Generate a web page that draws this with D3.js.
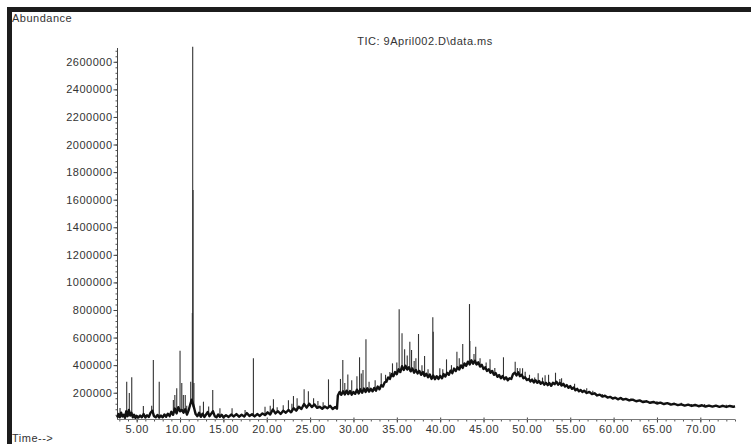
<!DOCTYPE html>
<html lang="en">
<head>
    <meta charset="UTF-8">
    <title>TIC: 9April002.D\data.ms</title>
    <style>
        body { margin: 0; background: #fff; }
        svg { display: block; }
        text {
            font-family: "Liberation Sans", Arial, sans-serif;
            font-size: 11px;
            fill: #333;
            letter-spacing: .5px;
        }
    </style>
</head>
<body>
    <div id="chart"></div>

    <script src="https://d3js.org/d3.v7.min.js"></script>
    <script>
        // abundance values are in thousands, time in minutes
        const baseline = [
            [2.75,20],[2.9,45],[3.05,22],[3.2,55],[3.35,28],[3.5,40],[3.65,18],[3.8,65],[3.95,30],[4.1,75],
            [4.25,35],[4.4,55],[4.55,22],[4.7,40],[4.85,18],[5.0,32],[5.2,20],[5.4,34],[5.6,22],[5.8,45],
            [6.0,20],[6.2,36],[6.4,24],[6.6,55],[6.8,70],[7.0,30],[7.2,22],[7.4,38],[7.6,20],[7.8,34],
            [8.0,22],[8.2,42],[8.4,26],[8.6,48],[8.8,30],[9.0,62],[9.2,40],[9.4,85],[9.6,50],[9.8,95],
            [10.0,65],[10.2,75],[10.4,55],[10.6,80],[10.8,42],[11.0,75],[11.2,120],[11.35,150],[11.6,95],[11.8,45],
            [12.0,30],[12.2,55],[12.4,25],[12.6,48],[12.8,24],[13.0,42],[13.2,60],[13.4,30],[13.6,48],[13.8,65],
            [14.0,30],[14.2,22],[14.4,42],[14.6,26],[14.8,40],[15.0,22],[15.3,36],[15.6,24],[15.9,42],[16.2,28],
            [16.5,45],[16.8,26],[17.1,40],[17.4,28],[17.7,52],[18.0,32],[18.3,44],[18.6,28],[18.9,45],[19.2,32],
            [19.5,50],[19.8,38],[20.1,58],[20.4,42],[20.7,78],[21.0,50],[21.3,66],[21.6,46],[21.9,70],[22.2,55],
            [22.5,75],[22.8,58],[23.1,88],[23.4,70],[23.7,98],[24.0,82],[24.3,118],[24.6,92],[24.9,120],[25.2,96],
            [25.5,115],[25.8,90],[26.1,98],[26.4,84],[26.7,100],[27.0,88],[27.3,105],[27.6,82],[27.9,96],[28.1,84],
            [28.2,180],[28.4,205],[28.6,185],[28.8,210],[29.0,188],[29.2,215],[29.4,190],[29.6,212],[29.8,186],[30.0,205],
            [30.2,192],[30.4,222],[30.6,195],[30.8,225],[31.0,200],[31.2,230],[31.4,205],[31.6,232],[31.8,208],[32.0,228],
            [32.2,210],[32.4,235],[32.6,215],[32.8,245],[33.0,225],[33.2,255],[33.4,245],[33.6,275],[33.8,280],[34.0,310],
            [34.2,300],[34.4,335],[34.6,320],[34.8,350],[35.0,335],[35.2,370],[35.4,350],[35.6,392],[35.8,365],[36.0,395],
            [36.2,368],[36.4,385],[36.6,355],[36.8,375],[37.0,345],[37.2,365],[37.4,340],[37.6,358],[37.8,330],[38.0,350],
            [38.2,322],[38.4,338],[38.6,312],[38.8,332],[39.0,300],[39.2,325],[39.4,298],[39.6,320],[39.8,300],[40.0,322],
            [40.2,305],[40.4,335],[40.6,318],[40.8,345],[41.0,330],[41.2,360],[41.4,342],[41.6,375],[41.8,358],[42.0,385],
            [42.2,368],[42.4,398],[42.6,380],[42.8,412],[43.0,395],[43.2,425],[43.4,405],[43.6,435],[43.8,410],[44.0,432],
            [44.2,405],[44.4,420],[44.6,390],[44.8,402],[45.0,372],[45.2,385],[45.4,358],[45.6,370],[45.8,345],[46.0,358],
            [46.2,330],[46.4,342],[46.6,315],[46.8,328],[47.0,305],[47.2,322],[47.4,298],[47.6,312],[47.8,290],[48.0,305],
            [48.2,300],[48.4,335],[48.6,345],[48.8,325],[49.0,348],[49.2,320],[49.4,330],[49.6,305],[49.8,312],[50.0,292],
            [50.2,300],[50.4,282],[50.6,295],[50.8,275],[51.0,290],[51.2,272],[51.4,285],[51.6,265],[51.8,278],[52.0,258],
            [52.2,272],[52.4,255],[52.6,270],[52.8,250],[53.0,272],[53.2,262],[53.4,280],[53.6,258],[53.8,272],[54.0,252],
            [54.2,265],[54.4,245],[54.6,255],[54.8,236],[55.0,248],[55.2,228],[55.4,238],[55.6,218],[55.8,228],[56.0,210],
            [56.2,220],[56.4,205],[56.6,215],[56.9,198],[57.2,206],[57.5,190],[57.8,196],[58.1,180],[58.4,186],[58.7,172],
            [59.0,178],[59.3,165],[59.6,170],[59.9,158],[60.2,164],[60.5,152],[60.8,162],[61.1,150],[61.4,155],[61.8,144],
            [62.2,150],[62.6,138],[63.0,144],[63.4,132],[63.8,138],[64.2,127],[64.6,133],[65.0,122],[65.4,128],[65.8,118],
            [66.2,124],[66.6,114],[67.0,120],[67.4,110],[67.8,116],[68.2,107],[68.6,114],[69.0,104],[69.4,111],[69.8,102],
            [70.2,109],[70.6,100],[71.0,107],[71.4,99],[71.8,106],[72.2,98],[72.6,105],[73.0,97],[73.4,104],[73.8,98],
            [74.0,102]
        ]

        // narrow peaks: [time, apex]
        const peaks = [
            [3.08,90],[3.85,280],[4.15,198],[4.43,312],[5.77,104],[6.73,106],[6.92,437],[7.6,280],
            [9.23,147],[9.4,183],[9.62,232],[10.0,505],[10.2,270],[10.38,183],[10.6,183],[10.77,106],
            [11.23,280],[11.42,778],[11.46,2709],[11.5,1670],[11.6,270],[12.3,106],[12.7,135],[13.3,100],
            [13.77,220],[14.6,88],[16.0,88],[17.5,75],[18.46,450],[19.8,99],[20.4,106],[20.77,152],
            [21.2,95],[21.9,110],[22.5,145],[22.9,120],[23.08,176],[23.5,160],[24.31,225],[24.8,210],
            [25.4,160],[25.9,140],[26.5,130],[27.12,297],
            [28.5,300],[28.77,437],[29.0,270],[29.35,333],[29.8,290],[30.4,320],[30.7,457],[30.9,340],
            [31.1,365],[31.44,587],[31.8,280],[32.5,290],[33.2,341],[33.7,330],[34.2,350],[34.5,413],
            [35.0,420],[35.27,805],[35.6,631],[35.9,515],[36.2,470],[36.5,570],[36.7,510],[37.0,430],
            [37.2,450],[37.5,626],[37.9,400],[38.2,466],[38.6,370],[39.15,747],[39.2,643],[39.96,377],
            [40.3,370],[40.73,442],[41.3,400],[41.93,497],[42.2,450],[42.6,553],[43.38,843],[43.42,575],
            [43.9,480],[44.1,534],[44.6,450],[45.3,420],[45.75,442],[46.3,380],[47.3,457],[48.65,425],
            [48.9,380],[49.2,377],[49.5,377],[49.8,352],[50.3,330],[50.9,310],[51.3,341],[51.8,310],
            [52.1,327],[52.5,330],[53.3,345],[53.8,300],[54.0,305],[55.5,265],[56.9,232],[57.6,215],
            [58.7,190],[60.9,167],[62.0,160],[63.5,145],[65.0,140],[66.5,128],[67.8,128],[69.0,118],
            [70.5,118],[72.5,112],[73.0,113]
        ]

        const yMajorTicks = [200, 400, 600, 800, 1000, 1200, 1400, 1600, 1800, 2000, 2200, 2400, 2600]
        const xMajorTicks = [5, 10, 15, 20, 25, 30, 35, 40, 45, 50, 55, 60, 65, 70]

        const width = 751
        const height = 444

        const x = d3.scaleLinear().domain([2.73, 74]).range([117, 735])
        const y = d3.scaleLinear().domain([0, 2700]).range([420.3, 48])
        const axisY = 419

        const svg = d3.select('#chart')
            .append('svg')
            .attr('width', width)
            .attr('height', height)

        // window frame
        svg.append('rect').attr('x', 7).attr('y', 7).attr('width', width - 7).attr('height', 5).attr('fill', '#1c1c1c')
        svg.append('rect').attr('x', 7).attr('y', 7).attr('width', 5).attr('height', height - 7).attr('fill', '#1c1c1c')

        svg.append('text').attr('x', 12).attr('y', 22).text('Abundance')
        svg.append('text').attr('x', 12).attr('y', 442).text('Time-->')
        svg.append('text').attr('x', 425).attr('y', 45).attr('text-anchor', 'middle')
            .text('TIC: 9April002.D\\data.ms')

        // y axis
        const yMinor = d3.range(40, 2700, 40)
        const gy = svg.append('g')
            .attr('transform', `translate(117.5,0)`)
            .call(d3.axisLeft(y).tickValues(yMinor).tickSize(2).tickFormat(''))
        gy.select('.domain').remove()
        gy.selectAll('line').attr('stroke', '#555')
        const gyMaj = svg.append('g')
            .attr('transform', `translate(117.5,0)`)
            .call(d3.axisLeft(y).tickValues(yMajorTicks).tickSize(4).tickPadding(1)
                .tickFormat(d => String(d * 1000)))
        gyMaj.select('.domain').remove()
        gyMaj.selectAll('line').attr('stroke', '#444')
        gyMaj.selectAll('text').attr('font-size', null).attr('font-family', null).attr('fill', null)
        svg.append('line')
            .attr('x1', 117.5).attr('x2', 117.5)
            .attr('y1', y(2700)).attr('y2', axisY)
            .attr('stroke', '#444')

        // x axis
        const gx = svg.append('g')
            .attr('transform', `translate(0,${axisY + 0.5})`)
            .call(d3.axisBottom(x).tickValues(d3.range(3, 75, 1)).tickSize(2).tickFormat(''))
        gx.select('.domain').remove()
        gx.selectAll('line').attr('stroke', '#555')
        const gxMaj = svg.append('g')
            .attr('transform', `translate(0,${axisY + 0.5})`)
            .call(d3.axisBottom(x).tickValues(xMajorTicks).tickSize(3).tickPadding(3)
                .tickFormat(d3.format('.2f')))
        gxMaj.select('.domain').remove()
        gxMaj.selectAll('line').attr('stroke', '#444').attr('y1', -2)
        gxMaj.selectAll('text').attr('font-size', null).attr('font-family', null).attr('fill', null)
        svg.append('line')
            .attr('x1', 117).attr('x2', 735)
            .attr('y1', axisY + 0.5).attr('y2', axisY + 0.5)
            .attr('stroke', '#777')

        // peaks drawn from nearest baseline sample up to apex
        const bis = d3.bisector(d => d[0]).center
        svg.append('g')
            .selectAll('line')
            .data(peaks)
            .enter()
            .append('line')
            .attr('x1', d => x(d[0]))
            .attr('x2', d => x(d[0]))
            .attr('y1', d => y(baseline[bis(baseline, d[0])][1]))
            .attr('y2', d => y(d[1]))
            .attr('stroke', '#333')
            .attr('stroke-width', 1.1)

        const line = d3.line()
            .x(d => x(d[0]))
            .y(d => y(d[1]))
        svg.append('path')
            .datum(baseline)
            .attr('d', line)
            .attr('fill', 'none')
            .attr('stroke', '#111')
            .attr('stroke-width', 2.4)
            .attr('stroke-linejoin', 'round')
    </script>
</body>
</html>
